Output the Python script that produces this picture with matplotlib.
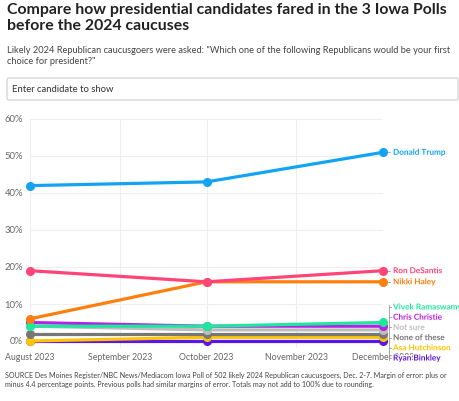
import matplotlib
matplotlib.use("Agg")
import matplotlib.pyplot as plt
import matplotlib.dates as mdates
import matplotlib.patheffects as pe
from matplotlib.patches import FancyBboxPatch
from matplotlib.lines import Line2D
import datetime as dt

plt.rcParams['font.family'] = ['Lato', 'DejaVu Sans']

poll_dates = [dt.date(2023, 8, 1), dt.date(2023, 10, 1), dt.date(2023, 12, 1)]
month_ticks = [dt.date(2023, 8, 1), dt.date(2023, 9, 1), dt.date(2023, 10, 1),
               dt.date(2023, 11, 1), dt.date(2023, 12, 1)]
month_labels = ["August 2023", "September 2023", "October 2023", "November 2023", "December 2023"]

candidates = ["Donald Trump", "Ron DeSantis", "Nikki Haley", "Vivek Ramaswamy",
              "Chris Christie", "Not sure", "None of these", "Asa Hutchinson", "Ryan Binkley"]
trump = [42, 43, 51]
desantis = [19, 16, 19]
haley = [6, 16, 16]
ramaswamy = [4, 4, 5]
christie = [5, 4, 4]
not_sure = [4, 3, 3]
none_of_these = [2, 2, 2]
hutchinson = [0, 1, 1]
binkley = [0, 0, 0]
series = [trump, desantis, haley, ramaswamy, christie, not_sure, none_of_these, hutchinson, binkley]
colors = ["#12a4f2", "#ff4477", "#ff7f0e", "#1ee89c", "#b620e8", "#bdbdbd", "#777777", "#ffc400", "#5a16e8"]
yticks = [0, 10, 20, 30, 40, 50, 60]

W, H = 460, 401
fig = plt.figure(figsize=(W / 100, H / 100), dpi=100)

def fx(px):
    return px / W

def fy(py):
    return 1 - py / H

# Title / subtitle
fig.text(fx(7), fy(3), "Compare how presidential candidates fared in the 3 Iowa Polls\nbefore the 2024 caucuses",
         fontsize=11.45, fontweight='bold', color="#222222", va='top', ha='left', linespacing=1.14)
fig.text(fx(7), fy(46), "Likely 2024 Republican caucusgoers were asked: \"Which one of the following Republicans would be your first\nchoice for president?\"",
         fontsize=6.7, color="#444444", va='top', ha='left', linespacing=1.25)

# Search box
box = FancyBboxPatch((fx(7), fy(100)), fx(451), (100 - 78) / H,
                     boxstyle="round,pad=0,rounding_size=0.004",
                     transform=fig.transFigure, facecolor="white", edgecolor="#cccccc", lw=0.8)
fig.patches.append(box)
fig.text(fx(12), fy(89), "Enter candidate to show", fontsize=6.8, color="#333333", va='center', ha='left')

# Axes
y_top_px, y0_px = 119, 341
px_per_unit = (y0_px - y_top_px) / 60.0
ymin = -2.0
bottom_px = y0_px - ymin * px_per_unit
ax = fig.add_axes([fx(30), fy(bottom_px), fx(383 - 30), (bottom_px - y_top_px) / H])
ax.set_xlim(mdates.date2num(month_ticks[0]), mdates.date2num(month_ticks[-1]))
ax.set_ylim(ymin, 60)

for s in ax.spines.values():
    s.set_visible(False)
ax.set_yticks(yticks)
ax.set_yticklabels([f"{v}%" for v in yticks])
ax.set_xticks([mdates.date2num(d) for d in month_ticks])
ax.set_xticklabels(month_labels)
ax.tick_params(axis='both', length=0, labelcolor="#666666")
ax.tick_params(axis='y', pad=5, labelsize=6.8)
ax.tick_params(axis='x', pad=3, labelsize=6.3)
ax.grid(True, color="#eeeeee", lw=0.8)
ax.set_axisbelow(True)

xnum = [mdates.date2num(d) for d in poll_dates]
for vals, c in list(zip(series, colors))[::-1]:
    ax.plot(xnum, vals, color=c, lw=2.3, marker='o', markersize=5.5, clip_on=False, zorder=3,
            solid_capstyle='round')

# Right labels
lab_x_px = 393
lab_fs = 5.9
halo = [pe.withStroke(linewidth=1.5, foreground="white")]
for name, vals, c in zip(candidates[:3], series[:3], colors[:3]):
    ypx = y0_px - vals[-1] * px_per_unit
    fig.text(fx(lab_x_px), fy(ypx), name, fontsize=lab_fs, fontweight='bold', color=c,
             va='center', ha='left', path_effects=halo)
    fig.add_artist(Line2D([fx(388), fx(390)], [fy(ypx), fy(ypx)], color="#999999", lw=0.6))

stack_top_px, stack_step = 307, 10.2
for i, (name, c) in enumerate(zip(candidates[3:], colors[3:])):
    ypx = stack_top_px + i * stack_step
    fig.text(fx(lab_x_px), fy(ypx), name, fontsize=lab_fs, fontweight='bold', color=c,
             va='center', ha='left', path_effects=halo, zorder=5)
    fig.add_artist(Line2D([fx(389), fx(391)], [fy(ypx), fy(ypx)], color="#999999", lw=0.6))
fig.add_artist(Line2D([fx(389), fx(389)], [fy(stack_top_px - 2), fy(stack_top_px + 5 * stack_step + 2)],
                      color="#999999", lw=0.6))

# Footer
fig.text(fx(5), fy(372), "SOURCE Des Moines Register/NBC News/Mediacom Iowa Poll of 502 likely 2024 Republican caucusgoers, Dec. 2-7. Margin of error: plus or\nminus 4.4 percentage points. Previous polls had similar margins of error. Totals may not add to 100% due to rounding.",
         fontsize=5.1, color="#444444", va='top', ha='left', linespacing=1.4)

fig.savefig("out.png", dpi=100)
